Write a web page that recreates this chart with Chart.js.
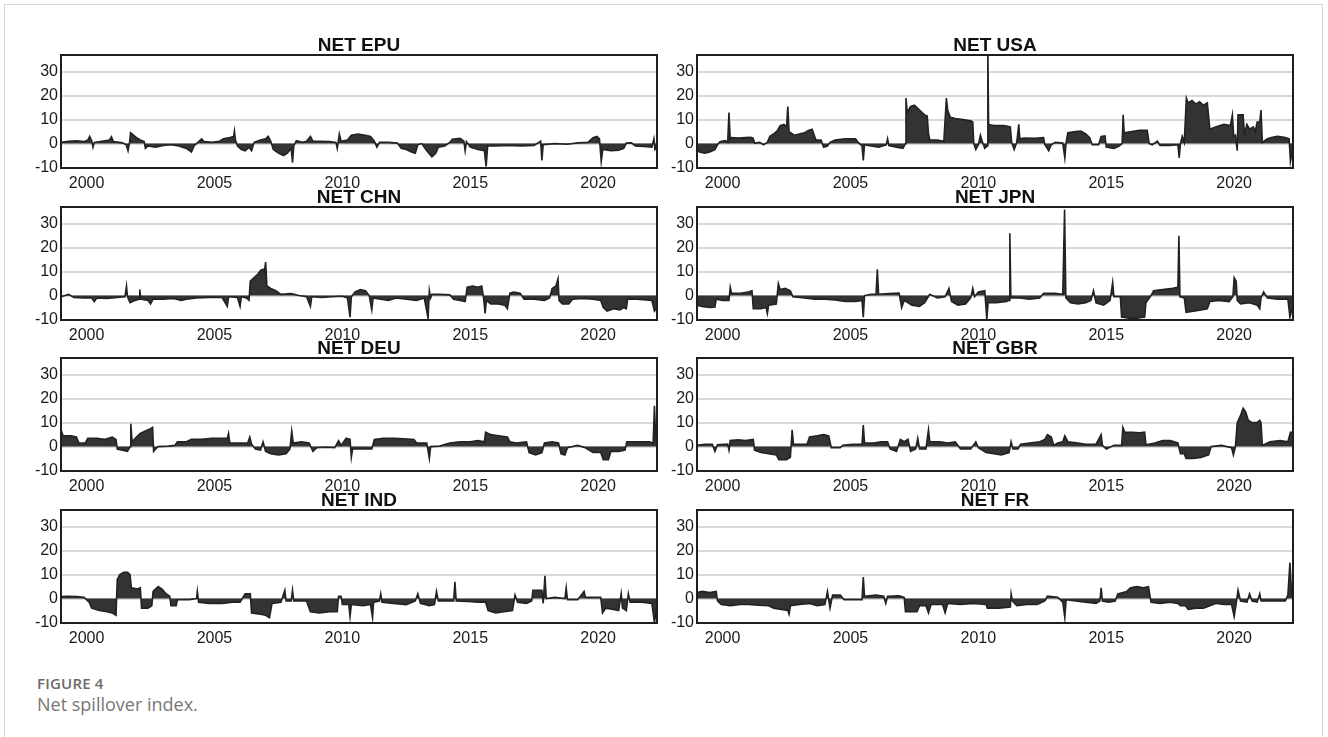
<!DOCTYPE html>
<html>
<head>
<meta charset="utf-8">
<script src="https://cdn.jsdelivr.net/npm/chart.js@4.4.1/dist/chart.umd.min.js"></script>
<style>
    body { margin: 0; background: #fff; width: 1328px; height: 737px; overflow: hidden; position: relative; }
    .frame { position: absolute; left: 4px; top: 4px; width: 1317px; height: 780px; border: 1px solid #d6d6d6; }
    .panel { position: absolute; }
    .caption { position: absolute; left: 37px; top: 673px; font-family: 'Open Sans', sans-serif; color: #6a6a6a; }
    .caption .num { font-size: 15px; font-weight: 600; letter-spacing: 0.2px; }
    .caption .txt { font-size: 18px; line-height: 22px; color: #777; }
</style>
</head>
<body>
<div class="frame"></div>
<div id="panels"></div>
<div class="caption">
    <div class="num">FIGURE 4</div>
    <div class="txt">Net spillover index.</div>
</div>
<script>
// axis ticks
const yTicks = [-10, 0, 10, 20, 30];
const xTicks = [2000, 2005, 2010, 2015, 2020];

// [year, net spillover]
const netEpu = [[1999.00,0.5],[1999.3,1],[1999.6,1.2],[1999.9,0.8],[2000.05,1.5],[2000.12,3],[2000.2,1.2],[2000.25,-1.5],[2000.3,0.5],[2000.6,1],[2000.9,1.5],[2000.97,2.8],[2001.05,0.8],[2001.4,0.3],[2001.55,-0.5],[2001.62,-3],[2001.68,0.5],[2001.72,4.5],[2001.8,3.8],[2001.95,2.5],[2002.1,1.5],[2002.25,0.8],[2002.3,-2],[2002.4,-1],[2002.7,-1.5],[2003.0,-0.8],[2003.3,-0.5],[2003.6,-1],[2003.9,-2],[2004.1,-3.5],[2004.2,-1],[2004.35,0.5],[2004.5,2],[2004.6,0.8],[2004.9,0.5],[2005.2,1],[2005.35,2],[2005.6,2.5],[2005.75,3],[2005.78,5.2],[2005.82,1.5],[2005.9,-1],[2006.05,-2.5],[2006.2,-3],[2006.35,-1.5],[2006.45,-3],[2006.55,0.5],[2006.8,1.5],[2007.0,2],[2007.1,3],[2007.2,1],[2007.3,-2.5],[2007.5,-4],[2007.7,-5],[2007.85,-4],[2008.0,-2],[2008.05,-8],[2008.1,-1],[2008.2,1.2],[2008.45,0.5],[2008.6,1],[2008.75,3],[2008.85,1],[2009.2,1],[2009.5,0.8],[2009.75,0.5],[2009.8,-2],[2009.88,4],[2009.95,1],[2010.2,1.5],[2010.35,3.5],[2010.6,4],[2010.9,3.5],[2011.1,3],[2011.25,1],[2011.35,-1.5],[2011.45,0.5],[2011.8,0.5],[2012.15,0.2],[2012.3,-2],[2012.5,-2.5],[2012.7,-3.5],[2012.85,-4],[2012.95,-0.5],[2013.1,0],[2013.3,-3],[2013.5,-5.5],[2013.65,-4],[2013.75,-1.5],[2014.0,-1],[2014.2,0.5],[2014.3,1.8],[2014.6,2.2],[2014.75,1],[2014.8,-3],[2014.85,0.8],[2015.0,-1.5],[2015.3,-2.5],[2015.55,-3],[2015.62,-9.5],[2015.68,-1],[2016.0,-1],[2016.5,-0.8],[2017.0,-1],[2017.5,-0.8],[2017.75,1],[2017.8,-7],[2017.85,-0.5],[2018.3,0],[2018.8,-0.3],[2019.2,0.3],[2019.6,0.5],[2019.8,2.5],[2019.95,3],[2020.05,2],[2020.12,-7.5],[2020.18,-2.5],[2020.5,-3],[2020.8,-2.8],[2021.0,-2],[2021.1,0.2],[2021.3,0.3],[2021.45,-1],[2021.8,-1.2],[2022.1,-1.5],[2022.18,2],[2022.22,-2.5],[2022.3,-1.5]];

const netUsa = [[1999.00,-2.5],[1999.1,-3.5],[1999.3,-4],[1999.5,-3.5],[1999.7,-2.5],[1999.8,-0.5],[1999.9,0.8],[2000.1,1.2],[2000.2,0.5],[2000.25,13],[2000.3,1.5],[2000.35,2.5],[2000.6,2.3],[2000.9,2.5],[2001.1,2.6],[2001.2,2.2],[2001.25,0.2],[2001.45,0.5],[2001.6,-0.5],[2001.75,0.5],[2001.85,3],[2002.0,4],[2002.15,5.5],[2002.25,7.5],[2002.4,8],[2002.5,7],[2002.55,15.5],[2002.6,5],[2002.8,3.5],[2003.0,4],[2003.2,4.5],[2003.35,5.5],[2003.5,6],[2003.6,3],[2003.65,1.5],[2003.85,1.5],[2003.95,-1.5],[2004.1,-1],[2004.2,0.5],[2004.4,1.5],[2004.8,2],[2005.2,2],[2005.3,0.5],[2005.45,-1],[2005.5,-7],[2005.55,-0.5],[2005.8,-1],[2006.1,-1.5],[2006.4,-0.5],[2006.45,2],[2006.5,-0.8],[2006.8,-1.5],[2007.05,-2],[2007.15,0],[2007.17,19],[2007.22,13],[2007.35,15.5],[2007.5,16],[2007.6,15],[2007.75,13.5],[2007.9,12],[2008.0,11.5],[2008.05,4],[2008.1,1.5],[2008.4,1.5],[2008.65,1],[2008.75,19],[2008.8,14],[2008.9,11],[2009.1,10.5],[2009.4,10],[2009.7,9.5],[2009.78,9],[2009.82,0],[2009.9,-2.5],[2010.0,-0.5],[2010.08,3.5],[2010.15,1],[2010.25,-2],[2010.35,-1],[2010.37,40],[2010.4,8],[2010.6,7.5],[2011.0,7.5],[2011.25,7],[2011.3,0.5],[2011.4,-2.5],[2011.5,0.5],[2011.58,8],[2011.62,2],[2011.8,2.3],[2012.2,2.2],[2012.55,2.5],[2012.6,-0.5],[2012.75,-3],[2012.85,-0.5],[2013.0,0.5],[2013.3,0.2],[2013.38,-6],[2013.43,0.5],[2013.5,4.5],[2013.8,5],[2014.0,5.2],[2014.2,4],[2014.35,2.5],[2014.45,-0.5],[2014.7,-0.5],[2014.8,3],[2014.95,3.2],[2015.0,-1.5],[2015.3,-2],[2015.5,-1],[2015.62,0],[2015.66,12],[2015.7,4.5],[2016.0,5],[2016.3,5.5],[2016.6,5.5],[2016.68,0],[2016.8,-0.5],[2017.0,1],[2017.1,-0.8],[2017.5,-0.8],[2017.8,-0.5],[2017.85,-6],[2017.9,0],[2017.97,3],[2018.05,0.5],[2018.13,19],[2018.2,17],[2018.35,18],[2018.5,16.5],[2018.65,17.5],[2018.8,16],[2018.95,17],[2019.05,6],[2019.3,7],[2019.6,8],[2019.85,7.5],[2019.93,12],[2019.98,3],[2020.05,3.5],[2020.12,-3],[2020.15,12],[2020.35,12],[2020.4,4],[2020.5,8],[2020.6,6],[2020.75,7],[2020.82,5],[2020.9,9],[2021.0,9],[2021.05,14],[2021.1,0.5],[2021.3,2],[2021.45,2.5],[2021.7,3],[2022.0,2.5],[2022.15,2],[2022.2,-7.5],[2022.3,-2]];

const netChn = [[1999.0,-0.5],[1999.3,0.5],[1999.5,-0.8],[1999.9,-1],[2000.2,-1],[2000.3,-2.5],[2000.4,-1],[2000.8,-1.2],[2001.2,-0.8],[2001.5,-0.5],[2001.56,4],[2001.6,-0.5],[2001.7,-3],[2001.9,-2],[2002.05,-1.5],[2002.08,2.5],[2002.12,-1.5],[2002.4,-2],[2002.5,-3.5],[2002.6,-1.5],[2003.0,-1.5],[2003.4,-1.2],[2003.7,-2],[2003.9,-1.5],[2004.3,-1],[2004.8,-0.8],[2005.3,-0.8],[2005.5,-4.5],[2005.55,-0.5],[2005.9,-0.8],[2006.0,-4.5],[2006.05,-0.5],[2006.25,-1],[2006.35,-2],[2006.4,6],[2006.55,7.5],[2006.7,9],[2006.8,10.5],[2006.9,11],[2006.95,10],[2007.0,14],[2007.05,4],[2007.2,3],[2007.4,2],[2007.6,0.5],[2008.0,0.8],[2008.3,0],[2008.6,-0.5],[2008.75,-4.5],[2008.8,-0.5],[2009.2,-0.8],[2009.6,-0.5],[2010.0,-0.3],[2010.2,-1],[2010.3,-9],[2010.35,-0.5],[2010.5,1.5],[2010.7,2.5],[2010.9,2],[2011.05,0],[2011.15,-6],[2011.2,-1],[2011.5,-1.5],[2011.8,-2],[2012.1,-1],[2012.5,-1.5],[2012.9,-2],[2013.2,-1],[2013.35,-9.5],[2013.4,2],[2013.45,-1],[2013.5,0.5],[2013.8,0.5],[2014.2,0.3],[2014.35,-1.5],[2014.6,-2],[2014.8,-2.5],[2014.88,3.5],[2015.1,4],[2015.3,3.5],[2015.45,4],[2015.52,-1],[2015.58,-7.5],[2015.63,-2],[2015.8,-3.5],[2016.1,-3.5],[2016.35,-4],[2016.45,-5.5],[2016.55,1],[2016.7,1.5],[2016.95,1],[2017.1,-1.5],[2017.5,-1.5],[2017.9,-2],[2018.1,-1],[2018.2,3],[2018.35,4],[2018.43,7],[2018.47,-2],[2018.6,-3.5],[2018.85,-3.5],[2019.0,-1.5],[2019.4,-1.2],[2019.8,-1.5],[2020.1,-2],[2020.2,-5],[2020.35,-6.5],[2020.6,-5.5],[2020.85,-6],[2021.0,-5],[2021.1,-5.5],[2021.15,-1.5],[2021.5,-1.5],[2021.9,-1.8],[2022.1,-2],[2022.2,-6.5],[2022.3,-5]];

const netJpn = [[1999.0,-4],[1999.2,-4.5],[1999.5,-5],[1999.7,-4.8],[1999.75,-1.5],[2000.0,-2],[2000.25,-2],[2000.3,3.5],[2000.35,1],[2000.7,1],[2001.0,1.5],[2001.15,2],[2001.2,-5.5],[2001.5,-5.5],[2001.7,-5],[2001.75,-7.5],[2001.8,-4],[2002.1,-3.5],[2002.18,5],[2002.25,2.5],[2002.45,3],[2002.65,2],[2002.75,-0.5],[2003.2,-1],[2003.6,-1.5],[2004.0,-1.5],[2004.4,-1.8],[2004.8,-2.5],[2005.2,-2.5],[2005.45,-2],[2005.5,-9],[2005.55,0],[2005.8,0.5],[2006.0,0.5],[2006.05,11],[2006.1,0.5],[2006.5,0.8],[2006.9,1],[2007.0,-5],[2007.1,-2],[2007.4,-4],[2007.7,-4.5],[2007.9,-3],[2008.1,0.5],[2008.4,-1],[2008.7,-0.5],[2008.85,3],[2008.95,-2.5],[2009.2,-4],[2009.5,-3.5],[2009.7,-1],[2009.78,3],[2009.85,-0.5],[2010.0,1.5],[2010.25,2],[2010.33,-10],[2010.38,-3],[2010.7,-3],[2011.1,-2.5],[2011.2,-2],[2011.23,26],[2011.27,-1],[2011.6,-1],[2012.0,-1.5],[2012.4,-1],[2012.55,1],[2013.0,1],[2013.3,0.5],[2013.37,36],[2013.42,-1],[2013.6,-3],[2013.9,-3.5],[2014.2,-3],[2014.4,-2],[2014.5,2],[2014.6,-3],[2014.9,-4],[2015.15,-2],[2015.25,5.5],[2015.3,-0.5],[2015.55,-0.5],[2015.6,-9],[2015.9,-9.5],[2016.2,-9.5],[2016.5,-9],[2016.55,-3],[2016.75,0],[2016.85,2],[2017.2,2.5],[2017.6,3],[2017.8,3.5],[2017.84,25],[2017.88,-0.5],[2018.05,-1],[2018.12,-7],[2018.4,-6.5],[2018.7,-6],[2018.95,-5.5],[2019.05,-2.5],[2019.4,-2],[2019.8,-2.5],[2019.95,-0.5],[2020.0,7.5],[2020.08,6],[2020.12,-2],[2020.25,-3.5],[2020.6,-3],[2020.9,-4],[2021.0,-5.5],[2021.05,-1],[2021.15,1.5],[2021.3,-1],[2021.7,-1.5],[2022.1,-1.5],[2022.18,-9],[2022.3,-4]];

const netDeu = [[1999.0,7],[1999.08,4.5],[1999.4,4.5],[1999.6,4],[1999.7,1.5],[1999.95,1.5],[2000.05,3.5],[2000.4,3.5],[2000.7,3],[2001.0,4],[2001.15,3],[2001.2,-1],[2001.4,-1.5],[2001.6,-2],[2001.7,0],[2001.73,9.5],[2001.78,2],[2001.95,4],[2002.1,5.5],[2002.3,6.5],[2002.5,7.5],[2002.58,8],[2002.62,-2],[2002.7,-1],[2002.8,0],[2003.2,0.2],[2003.45,0.5],[2003.55,2],[2003.9,2],[2004.1,3],[2004.5,3],[2004.9,3.5],[2005.3,3.5],[2005.5,3.5],[2005.55,5.5],[2005.6,1.5],[2006.0,1.5],[2006.3,1.5],[2006.38,4],[2006.45,1],[2006.6,-1],[2006.8,-1.5],[2006.9,2],[2007.0,-2],[2007.2,-3],[2007.5,-3.5],[2007.8,-3],[2007.95,-1],[2008.02,6.5],[2008.08,1.5],[2008.4,2],[2008.7,1.5],[2008.85,-2],[2009.0,-0.5],[2009.4,-0.3],[2009.7,-0.5],[2009.85,2.5],[2009.95,0.5],[2010.15,3.5],[2010.3,3],[2010.35,-4.5],[2010.4,-1],[2010.8,-1],[2011.15,-1],[2011.25,3],[2011.6,3.5],[2012.0,3.5],[2012.4,3.3],[2012.8,3],[2012.9,1.5],[2013.3,1.5],[2013.4,-5],[2013.45,0],[2013.8,0.2],[2014.2,1.5],[2014.6,2],[2015.0,2],[2015.3,2.5],[2015.55,2],[2015.6,6],[2015.8,5],[2016.1,4.5],[2016.45,4],[2016.55,2],[2016.8,1.5],[2017.2,2],[2017.3,-2.5],[2017.55,-3.5],[2017.8,-2.5],[2017.9,1.5],[2018.2,2],[2018.45,1.5],[2018.55,-3],[2018.7,-3.5],[2018.8,-0.5],[2019.2,0.5],[2019.5,-0.5],[2019.8,-2.5],[2020.1,-2.5],[2020.2,-5.5],[2020.4,-5.5],[2020.5,-2],[2020.8,-2],[2021.05,-1.5],[2021.12,2],[2021.6,2],[2022.0,2],[2022.15,1.5],[2022.2,17],[2022.25,3],[2022.3,1]];

const netGbr = [[1999.0,0.5],[1999.3,1],[1999.6,1],[1999.7,-2],[1999.8,0.8],[2000.2,1],[2000.25,-1.5],[2000.3,2.5],[2000.6,2.8],[2000.9,2.5],[2001.2,3],[2001.25,-1.5],[2001.5,-2.5],[2001.8,-3],[2002.1,-3.5],[2002.2,-5.5],[2002.5,-5.5],[2002.65,-4.5],[2002.72,7],[2002.77,1],[2003.0,1],[2003.3,1],[2003.4,4],[2003.7,4.5],[2003.95,5],[2004.15,4.5],[2004.25,-0.5],[2004.6,-0.5],[2004.7,0.5],[2005.1,1],[2005.45,1],[2005.5,9],[2005.55,1.5],[2005.9,1.5],[2006.2,2],[2006.45,2],[2006.55,-1],[2006.8,-2],[2006.95,3],[2007.1,2],[2007.25,3],[2007.35,-2],[2007.55,-1],[2007.63,3.5],[2007.7,-1],[2007.95,-1],[2008.05,7],[2008.1,2],[2008.5,2],[2008.8,1.5],[2009.1,2],[2009.3,-1],[2009.7,-1],[2009.9,2],[2010.0,-0.5],[2010.3,-2.5],[2010.6,-3],[2010.9,-3.5],[2011.2,-2.5],[2011.28,2],[2011.35,-1],[2011.55,-1],[2011.65,1],[2012.0,1.5],[2012.4,2],[2012.6,3],[2012.7,5],[2012.85,4],[2012.95,0.5],[2013.1,1.5],[2013.3,2],[2013.38,4.5],[2013.5,2],[2013.9,1.5],[2014.2,1],[2014.6,1],[2014.8,5],[2014.85,0.5],[2015.0,-1],[2015.3,0.5],[2015.6,0.5],[2015.65,8],[2015.72,6],[2016.0,6],[2016.3,5.8],[2016.5,6],[2016.55,0.8],[2016.9,1.5],[2017.2,2.5],[2017.5,2.5],[2017.8,1.5],[2017.9,-3],[2018.05,-3],[2018.12,-5],[2018.4,-5],[2018.7,-4.5],[2019.0,-3.5],[2019.1,0],[2019.5,0.5],[2019.9,-0.5],[2019.97,-3.5],[2020.05,0],[2020.12,10],[2020.25,13],[2020.35,16],[2020.45,14.5],[2020.55,11],[2020.7,10],[2020.9,10],[2021.0,11],[2021.05,10],[2021.1,0.5],[2021.4,2],[2021.8,2.5],[2022.1,2],[2022.2,6],[2022.3,6]];

const netInd = [[1999.0,0.8],[1999.3,1],[1999.6,0.8],[1999.9,0.5],[2000.1,-1.5],[2000.2,-4],[2000.5,-5],[2000.8,-5.5],[2001.0,-6],[2001.15,-7],[2001.2,8],[2001.3,10],[2001.45,11],[2001.6,11],[2001.7,10],[2001.75,4.5],[2002.0,4],[2002.1,4.5],[2002.15,-4],[2002.4,-4],[2002.55,-3],[2002.6,3],[2002.8,5],[2002.95,4],[2003.1,2],[2003.25,1],[2003.3,-3],[2003.5,-3],[2003.55,-0.5],[2004.0,-0.5],[2004.3,0],[2004.33,3],[2004.38,-1.5],[2004.8,-2],[2005.3,-2],[2005.7,-1.5],[2006.0,-1.5],[2006.2,2],[2006.4,2],[2006.45,-6],[2006.8,-6.5],[2007.0,-7],[2007.15,-8],[2007.25,-2],[2007.6,-1.5],[2007.75,3.5],[2007.8,-1],[2008.0,-1],[2008.05,3.5],[2008.1,-1],[2008.6,-1],[2008.75,-5.5],[2009.1,-6],[2009.5,-5.5],[2009.8,-5.5],[2009.85,1],[2009.95,1],[2010.0,-2.5],[2010.25,-2.5],[2010.3,-7.5],[2010.35,-2.5],[2010.8,-3],[2011.1,-2.5],[2011.18,-8],[2011.22,-1.5],[2011.45,-1],[2011.5,2],[2011.55,-1.5],[2012.0,-2],[2012.5,-2.5],[2012.85,-1],[2012.95,2],[2013.05,-2],[2013.4,-3],[2013.6,-2.5],[2013.68,3],[2013.75,-1],[2014.1,-1],[2014.35,-1],[2014.4,7],[2014.45,-1],[2014.9,-1.2],[2015.3,-1.5],[2015.6,-1.5],[2015.7,-5],[2016.0,-6],[2016.3,-5.5],[2016.65,-5],[2016.75,1.5],[2016.85,-1.5],[2017.2,-2],[2017.4,-1],[2017.45,3.5],[2017.8,3.5],[2017.85,-2],[2017.92,9.5],[2017.97,0],[2018.3,0.5],[2018.7,0],[2018.75,4.5],[2018.8,-0.5],[2019.2,-0.5],[2019.45,3],[2019.5,0.5],[2019.9,0.5],[2020.1,0.5],[2020.17,-6],[2020.3,-4],[2020.6,-4.5],[2020.8,-5],[2020.9,2],[2020.95,-4],[2021.1,-5],[2021.18,2],[2021.25,-1.5],[2021.7,-1.5],[2022.1,-2],[2022.2,-10],[2022.3,-3]];

const netFr = [[1999.0,2.5],[1999.2,3],[1999.5,2.5],[1999.75,3],[1999.8,-1],[1999.95,-2.5],[2000.3,-3],[2000.7,-2.5],[2001.0,-2.5],[2001.4,-2.8],[2001.8,-3],[2002.0,-4],[2002.3,-4.5],[2002.55,-5],[2002.6,-6.5],[2002.65,-3],[2003.0,-2.5],[2003.4,-2],[2003.7,-3],[2004.0,-2.5],[2004.1,3],[2004.2,-4],[2004.3,1.5],[2004.6,1.5],[2004.75,-0.5],[2005.2,-0.5],[2005.45,-0.5],[2005.5,9],[2005.55,1],[2006.0,1.5],[2006.3,1],[2006.38,-2],[2006.45,1],[2006.9,1.2],[2007.1,0.5],[2007.15,-5.5],[2007.6,-5.5],[2007.7,-3],[2007.95,-3],[2008.05,-6],[2008.15,-2.5],[2008.6,-2.5],[2008.7,-6],[2008.8,-2],[2009.3,-2.5],[2009.8,-2],[2010.3,-2.5],[2010.35,-4],[2010.8,-4],[2011.25,-3.5],[2011.28,2],[2011.33,-1],[2011.5,-3],[2011.9,-2.5],[2012.3,-2.5],[2012.6,-1],[2012.7,1],[2013.1,0.5],[2013.3,-1.5],[2013.38,-8],[2013.43,-0.5],[2013.8,-1],[2014.2,-1.5],[2014.6,-2],[2014.75,-1],[2014.8,4.5],[2014.85,-1],[2015.1,-1.5],[2015.35,-1],[2015.45,2],[2015.8,3],[2015.95,4.5],[2016.2,5],[2016.45,4.5],[2016.65,5],[2016.75,-1.5],[2017.1,-2],[2017.5,-1.5],[2017.8,-2],[2017.9,-3],[2018.1,-3],[2018.2,-4.5],[2018.5,-4],[2018.8,-4],[2019.05,-3],[2019.3,-2],[2019.6,-2.5],[2019.9,-2.5],[2020.0,-7.5],[2020.08,-2],[2020.15,3.5],[2020.25,-1],[2020.5,-1.5],[2020.6,2],[2020.7,-1],[2020.9,-1.5],[2021.0,2],[2021.05,-1],[2021.3,-1],[2021.7,-1],[2022.0,-1],[2022.1,1.5],[2022.18,15],[2022.25,1],[2022.3,1]];

const panels = [
    { title: 'NET EPU', data: netEpu, col: 0, row: 0 },
    { title: 'NET USA', data: netUsa, col: 1, row: 0 },
    { title: 'NET CHN', data: netChn, col: 0, row: 1 },
    { title: 'NET JPN', data: netJpn, col: 1, row: 1 },
    { title: 'NET DEU', data: netDeu, col: 0, row: 2 },
    { title: 'NET GBR', data: netGbr, col: 1, row: 2 },
    { title: 'NET IND', data: netInd, col: 0, row: 3 },
    { title: 'NET FR', data: netFr, col: 1, row: 3 }
];

// layout of the plot boxes
const boxLeft = [61, 697];
const boxTop = [55, 207, 358, 510];
const boxW = 596;
const boxH = 113;
const axisW = 45;
const titleH = 19;
const xAxisH = 30;

// box around the plot area
const framePlugin = {
    id: 'frame',
    afterDatasetsDraw(chart) {
        const a = chart.chartArea;
        const ctx = chart.ctx;
        ctx.save();
        ctx.strokeStyle = '#1e1e1e';
        ctx.lineWidth = 2;
        ctx.strokeRect(a.left, a.top, a.right - a.left, a.bottom - a.top);
        ctx.restore();
    }
};

const holder = document.getElementById('panels');

panels.forEach(p => {
    const canvas = document.createElement('canvas');
    canvas.className = 'panel';
    const w = axisW + boxW + 2;
    const h = titleH + boxH + xAxisH;
    canvas.width = w;
    canvas.height = h;
    canvas.style.width = w + 'px';
    canvas.style.height = h + 'px';
    canvas.style.left = (boxLeft[p.col] - axisW) + 'px';
    canvas.style.top = (boxTop[p.row] - titleH) + 'px';
    holder.appendChild(canvas);

    new Chart(canvas, {
        type: 'line',
        data: {
            datasets: [{
                data: p.data.map(d => ({ x: d[0], y: d[1] })),
                borderColor: '#222222',
                backgroundColor: '#333333',
                borderWidth: 1.6,
                pointRadius: 0,
                tension: 0,
                fill: 'origin'
            }]
        },
        options: {
            responsive: false,
            animation: false,
            devicePixelRatio: 1,
            layout: { padding: { top: 0, right: 2, bottom: 0, left: 0 } },
            plugins: {
                legend: { display: false },
                tooltip: { enabled: false },
                title: {
                    display: true,
                    text: p.title,
                    fullSize: false,
                    color: '#111',
                    font: { family: 'Liberation Sans', size: 19, weight: 'bold', lineHeight: 1 },
                    padding: { top: 0, bottom: 0 }
                }
            },
            scales: {
                x: {
                    type: 'linear',
                    min: 1999.0,
                    max: 2022.3,
                    afterBuildTicks: s => { s.ticks = xTicks.map(v => ({ value: v })); },
                    afterFit: s => { s.height = xAxisH; },
                    grid: { display: false, drawTicks: false },
                    border: { display: false },
                    ticks: {
                        padding: 6,
                        color: '#1a1a1a',
                        maxRotation: 0,
                        font: { family: 'Liberation Sans', size: 16 },
                        callback: v => String(v)
                    }
                },
                y: {
                    min: -10.2,
                    max: 37,
                    afterBuildTicks: s => { s.ticks = yTicks.map(v => ({ value: v })); },
                    afterFit: s => { s.width = axisW; },
                    grid: { color: '#d9d9d9', lineWidth: 2, drawTicks: false },
                    border: { display: false },
                    ticks: {
                        padding: 3,
                        color: '#1a1a1a',
                        font: { family: 'Liberation Sans', size: 16 },
                        callback: v => String(v)
                    }
                }
            }
        },
        plugins: [framePlugin]
    });
});
</script>
</body>
</html>
